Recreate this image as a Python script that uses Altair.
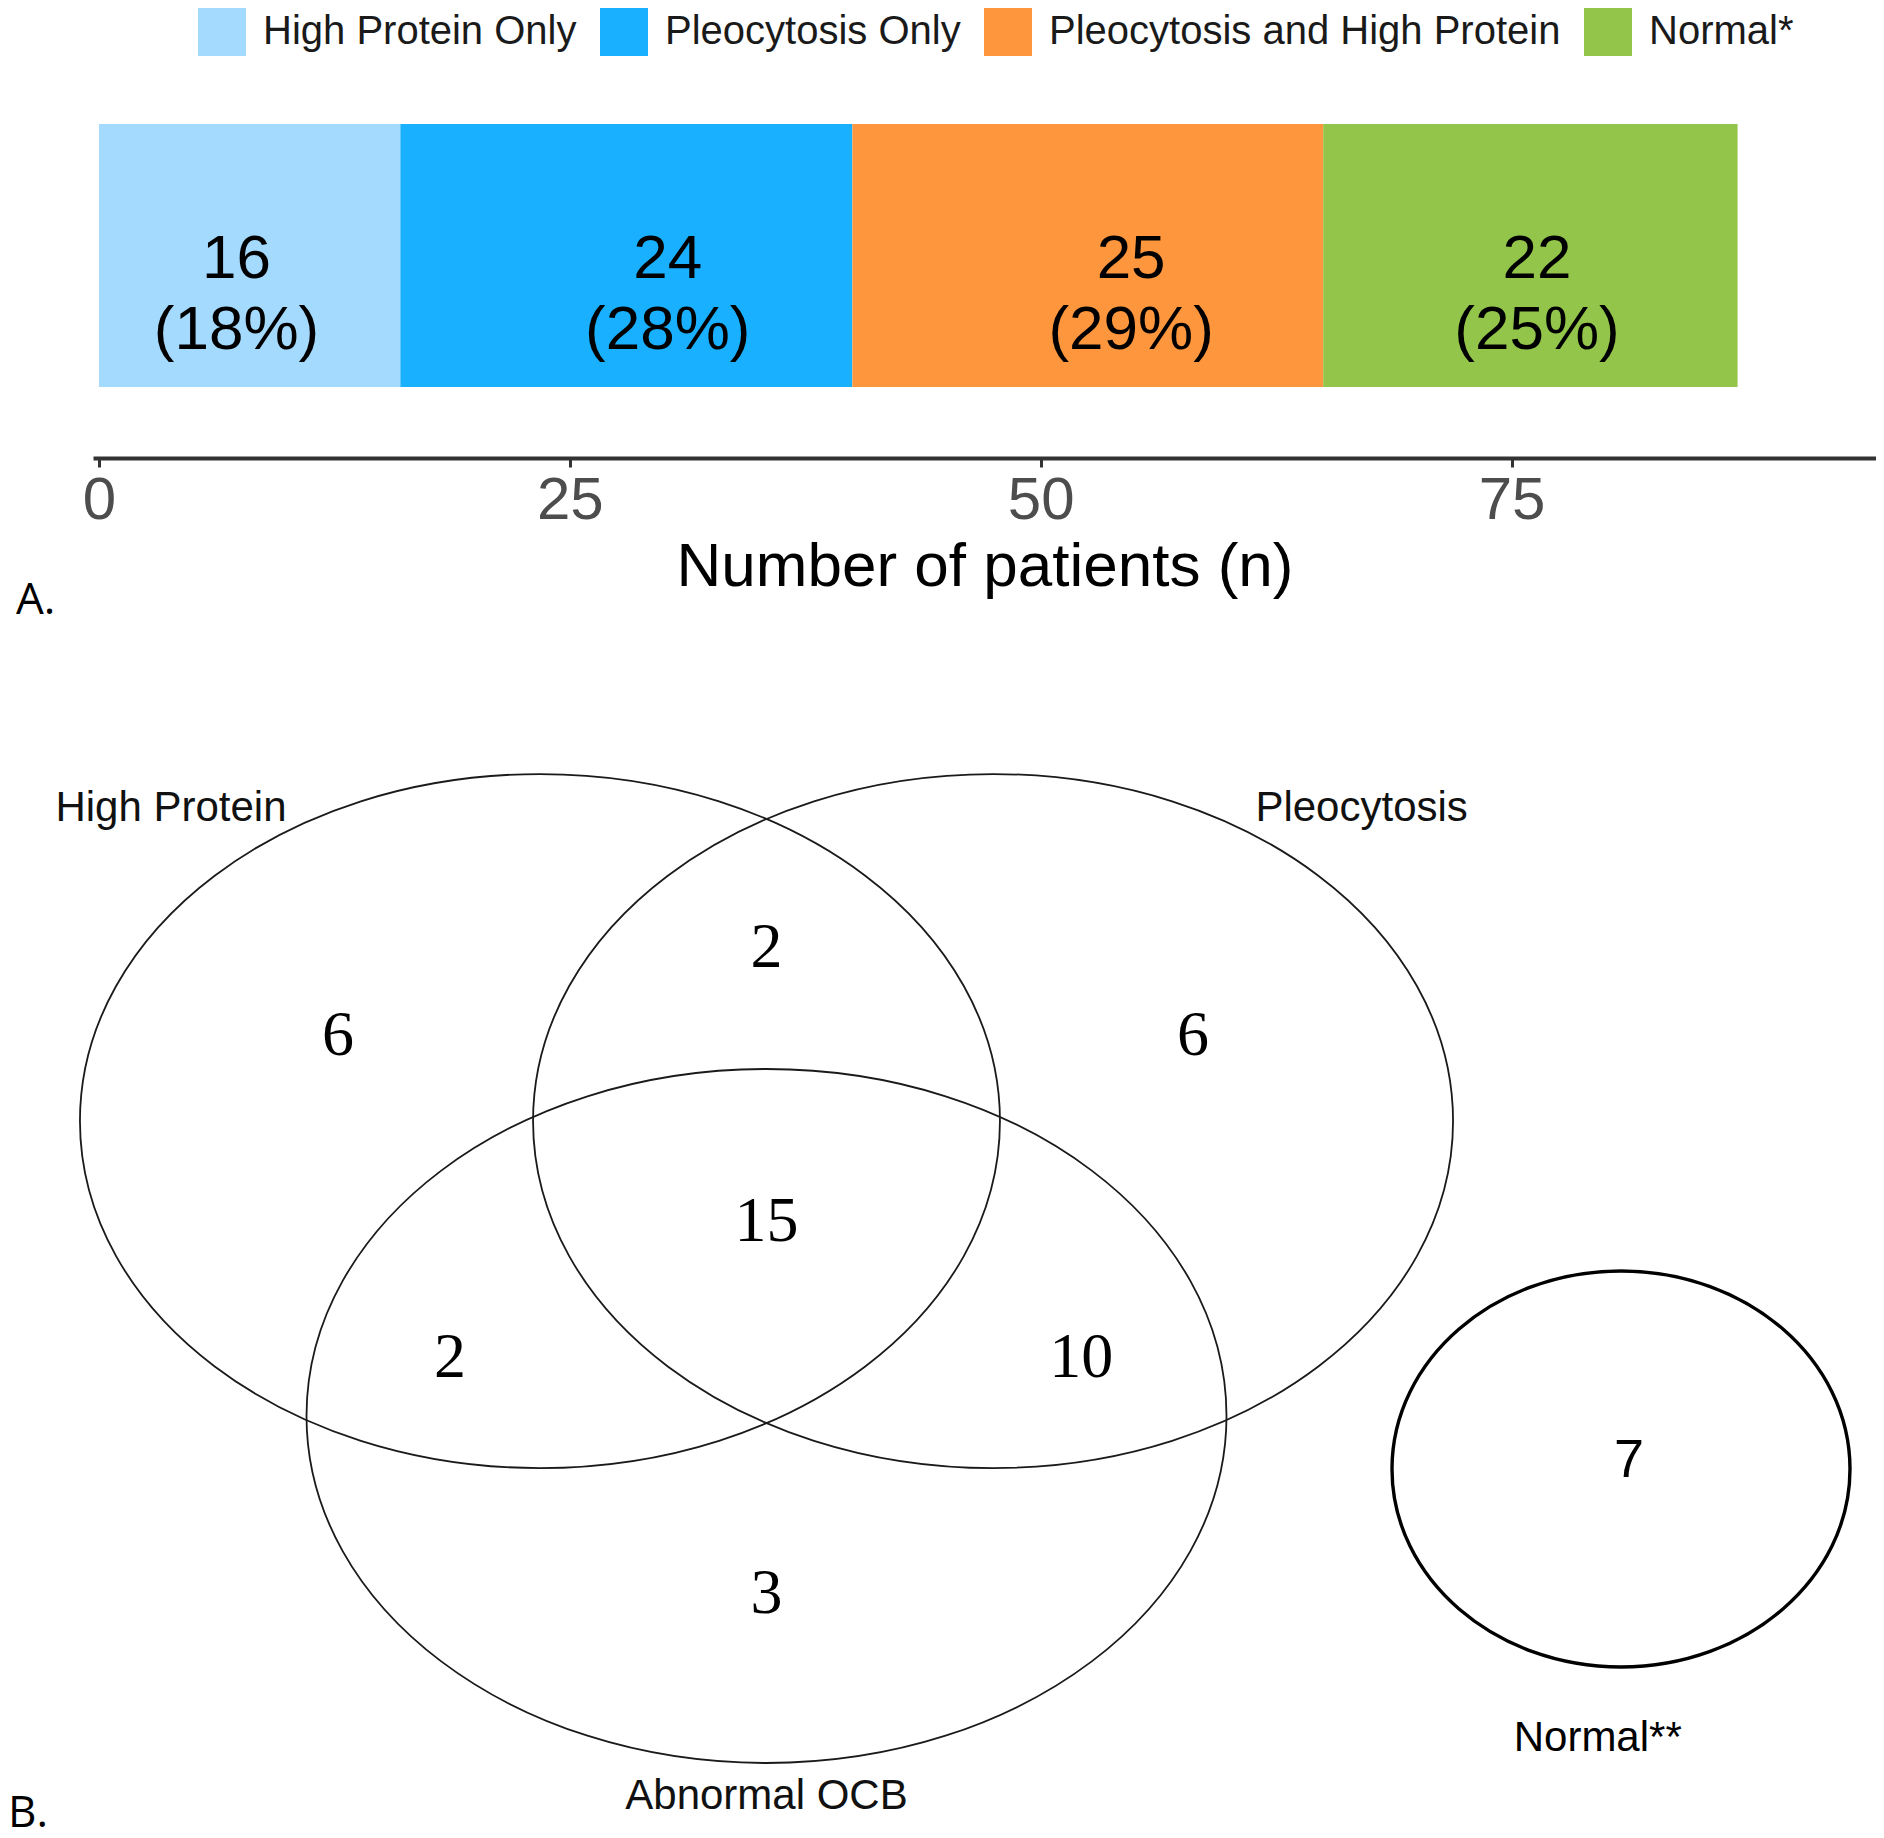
import altair as alt
import pandas as pd

# ---------------- Panel A data ----------------
categories = ["High Protein Only", "Pleocytosis Only", "Pleocytosis and High Protein", "Normal*"]
counts = [16, 24, 25, 22]
percents = [18, 28, 29, 25]
label_pos = [7.3, 30.2, 54.8, 76.35]  # label centres along the count axis
colors = ["#A4DAFD", "#18B0FF", "#FD963C", "#93C54A"]
x_ticks = [0, 25, 50, 75]

# ---------------- Panel B data ----------------
set_names = ["High Protein", "Pleocytosis", "Abnormal OCB"]
region_names = ["High Protein only", "High Protein & Pleocytosis", "Pleocytosis only", "All three",
                "High Protein & Abnormal OCB", "Pleocytosis & Abnormal OCB", "Abnormal OCB only"]
region_counts = [6, 2, 6, 15, 2, 10, 3]
normal_name = "Normal**"
normal_count = 7

# Venn layout (venn units; 1 unit = ellipse semi-axis)
set_cx = [-0.4925, 0.4925, 0.0]
set_cy = [0.850, 0.850, 0.0]
set_label_x = [-1.2946, 1.2937, 0.0]
set_label_y = [1.758, 1.758, -1.088]
region_x = [-0.9315, 0.0, 0.927, 0.0, -0.688, 0.684, 0.0]
region_y = [1.095, 1.3487, 1.095, 0.559, 0.167, 0.167, -0.513]
normal_cx, normal_cy = [1.8576], [-0.1527]
normal_label_x, normal_label_y = [1.807], [-0.922]
normal_count_x, normal_count_y = [1.875], [-0.121]
panel_labels = ["A.", "B."]
panel_x = [-1.6315, -1.649]
panel_y = [2.354, -1.141]

SANS = "Liberation Sans"
SERIF = "Liberation Serif"


def ellipse_path(a, b=1.0):
    k = 0.5523
    return (f"M {-a} 0 C {-a} {-k*b} {-k*a} {-b} 0 {-b} "
            f"C {k*a} {-b} {a} {-k*b} {a} 0 "
            f"C {a} {k*b} {k*a} {b} 0 {b} "
            f"C {-k*a} {b} {-a} {k*b} {-a} 0 Z")


# ---------------- Panel A ----------------
df_bar = pd.DataFrame({
    "group": categories,
    "n": counts,
    "order": list(range(len(categories))),
    "row": ["all"] * len(categories),
})
df_lab = pd.DataFrame({
    "pos": label_pos,
    "row": ["all"] * len(categories),
    "label": [f"{n}\n({p}%)" for n, p in zip(counts, percents)],
})

xscale = alt.Scale(domain=[-0.32, 94.35], nice=False, zero=False)
yscale = alt.Scale(paddingInner=0, paddingOuter=0.27)
x_axis = alt.Axis(values=x_ticks, title="Number of patients (n)", grid=False,
                  domainColor="#333333", domainWidth=4, tickColor="#333333",
                  tickWidth=3, tickSize=9, labelPadding=4, labelFont=SANS,
                  labelFontSize=60, labelColor="#4D4D4D", titleFont=SANS,
                  titleFontSize=62, titleFontWeight="normal", titleColor="black",
                  titleBaseline="alphabetic", titleY=127)

bars = alt.Chart(df_bar).mark_bar(strokeWidth=0).encode(
    x=alt.X("n:Q", stack="zero", scale=xscale, axis=x_axis),
    y=alt.Y("row:N", scale=yscale, axis=None),
    color=alt.Color("group:N", scale=alt.Scale(domain=categories, range=colors),
                    legend=alt.Legend(orient="none", legendX=105, legendY=-45,
                                      direction="horizontal", title=None,
                                      symbolType="square", symbolSize=2304,
                                      symbolStrokeWidth=0, symbolOpacity=1,
                                      labelFont=SANS, labelFontSize=40, labelColor="#1a1a1a",
                                      labelOffset=17, columnPadding=23, labelLimit=0,
                                      padding=0)),
    order=alt.Order("order:Q"),
)

bar_text = alt.Chart(df_lab).mark_text(
    font=SANS, fontSize=62, lineBreak="\n", lineHeight=71, baseline="middle",
    dy=3, color="black"
).encode(
    x=alt.X("pos:Q", scale=xscale, axis=x_axis),
    y=alt.Y("row:N", scale=yscale, axis=None),
    text="label:N",
)

panel_a = alt.layer(bars, bar_text)

# ---------------- Panel B ----------------
vx = alt.Scale(domain=[-1, 1], range=[213.5, 1133.5], nice=False, zero=False)
vy = alt.Scale(domain=[-1, 1], range=[1710, 1016], nice=False, zero=False)

df_sets = pd.DataFrame({"name": set_names, "cx": set_cx, "cy": set_cy,
                        "lx": set_label_x, "ly": set_label_y})
df_regions = pd.DataFrame({"region": region_names, "count": region_counts,
                           "x": region_x, "y": region_y})
df_normal = pd.DataFrame({"name": [normal_name], "count": [normal_count],
                          "cx": normal_cx, "cy": normal_cy,
                          "lx": normal_label_x, "ly": normal_label_y,
                          "nx": normal_count_x, "ny": normal_count_y})
df_panels = pd.DataFrame({"label": panel_labels, "x": panel_x, "y": panel_y})


def enc(xf, yf):
    return dict(x=alt.X(f"{xf}:Q", scale=vx, axis=None),
                y=alt.Y(f"{yf}:Q", scale=vy, axis=None))


ellipses = alt.Chart(df_sets).mark_point(
    shape=ellipse_path(460 / 347), size=694 ** 2, filled=False,
    stroke="#1a1a1a", strokeWidth=1.8, opacity=1
).encode(**enc("cx", "cy"))

normal_ellipse = alt.Chart(df_normal).mark_point(
    shape=ellipse_path(229 / 198), size=396 ** 2, filled=False,
    stroke="black", strokeWidth=3.4, opacity=1
).encode(**enc("cx", "cy"))

region_text = alt.Chart(df_regions).mark_text(
    font=SERIF, fontSize=64, baseline="middle", dy=0, color="black"
).encode(text="count:N", **enc("x", "y"))

set_text = alt.Chart(df_sets).mark_text(
    font=SANS, fontSize=42, baseline="middle", dy=2, color="#111111"
).encode(text="name:N", **enc("lx", "ly"))

normal_text = alt.Chart(df_normal).mark_text(
    font=SANS, fontSize=42, baseline="middle", dy=2, color="black"
).encode(text="name:N", **enc("lx", "ly"))

normal_count_text = alt.Chart(df_normal).mark_text(
    font=SANS, fontSize=54, baseline="middle", dy=3, color="black"
).encode(text="count:N", **enc("nx", "ny"))

panel_text = alt.Chart(df_panels).mark_text(
    font="Open Sans", fontSize=44, baseline="middle", align="left", dy=2, color="black"
).encode(text="label:N", **enc("x", "y"))

panel_b = alt.layer(ellipses, normal_ellipse, region_text, set_text, normal_text,
                    normal_count_text, panel_text)

chart = alt.layer(panel_a, panel_b).resolve_scale(
    x="independent", y="independent", color="independent"
).properties(
    width=1783, height=405,
    autosize=alt.AutoSizeParams(type="none"),
    padding={"left": 85, "top": 45, "right": 0, "bottom": 1372},
    background="white",
).configure_view(strokeWidth=0)

chart.save("out.html", embed_options={"renderer": "svg", "actions": False})
